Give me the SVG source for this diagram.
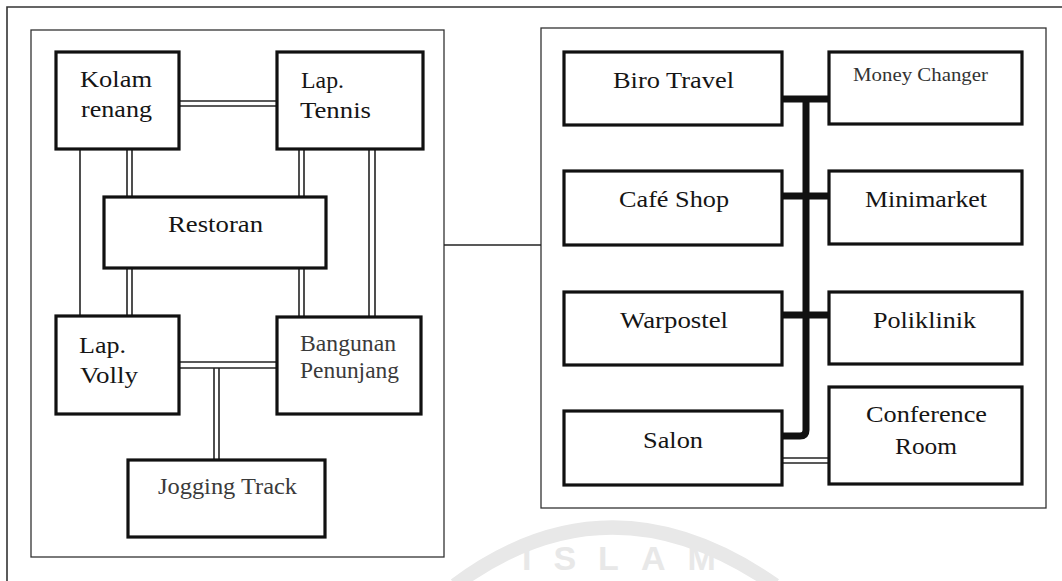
<svg xmlns="http://www.w3.org/2000/svg" width="1062" height="581" viewBox="0 0 1062 581">
<style>
.frame{fill:none;stroke:#333;stroke-width:1.3}
.box{fill:#fff;stroke:#111;stroke-width:3.2}
.ln{fill:none;stroke:#222;stroke-width:1.6}
.bus{fill:none;stroke:#111;stroke-width:7}
text{font-family:'Liberation Serif','Times New Roman',Times,serif}
.t{font-size:24px;fill:#151515}
.s{font-size:23px;fill:#3a3a3a}
.m{font-size:18px;fill:#333}
.wm{fill:none;stroke:#e8e8e8;stroke-width:14}
.wmt{font-family:'Liberation Sans',Arial,sans-serif;font-weight:bold;font-size:34px;fill:#e8e8e8}
</style>
<rect width="1062" height="581" fill="#fff"/>
<g id="watermark">
<path class="wm" d="M455,585 Q610,470 775,585"/>
<text class="wmt" x="522" y="570" letter-spacing="22">ISLAM</text>
</g>
<g id="outer-frame">
<path d="M7,581 V7 H1062" fill="none" stroke="#333" stroke-width="1.6"/>
</g>
<g id="panel-left"><rect class="frame" x="31" y="30" width="413" height="527"/></g>
<g id="panel-right"><rect class="frame" x="541" y="28" width="505" height="480"/></g>
<g id="connectors">
<line class="ln" x1="444" y1="245" x2="541" y2="245"/>
<line class="ln" x1="179" y1="101" x2="277" y2="101"/>
<line class="ln" x1="179" y1="106" x2="277" y2="106"/>
<line class="ln" x1="80" y1="149" x2="80" y2="316"/>
<line class="ln" x1="127" y1="149" x2="127" y2="197"/>
<line class="ln" x1="132" y1="149" x2="132" y2="197"/>
<line class="ln" x1="127" y1="268" x2="127" y2="316"/>
<line class="ln" x1="132" y1="268" x2="132" y2="316"/>
<line class="ln" x1="299" y1="149" x2="299" y2="197"/>
<line class="ln" x1="304" y1="149" x2="304" y2="197"/>
<line class="ln" x1="299" y1="268" x2="299" y2="317"/>
<line class="ln" x1="304" y1="268" x2="304" y2="317"/>
<line class="ln" x1="369" y1="149" x2="369" y2="317"/>
<line class="ln" x1="375" y1="149" x2="375" y2="317"/>
<line class="ln" x1="155" y1="362" x2="277" y2="362"/>
<line class="ln" x1="155" y1="368" x2="277" y2="368"/>
<line class="ln" x1="214" y1="368" x2="214" y2="460"/>
<line class="ln" x1="219" y1="368" x2="219" y2="460"/>
<path class="bus" d="M782,436 H800 Q806,436 806,430 V99"/>
<line class="bus" x1="782" y1="99" x2="829" y2="99"/>
<line class="bus" x1="782" y1="196" x2="829" y2="196"/>
<line class="bus" x1="782" y1="315" x2="829" y2="315"/>
<line class="ln" x1="782" y1="458" x2="829" y2="458"/>
<line class="ln" x1="782" y1="463" x2="829" y2="463"/>
</g>
<g id="kolam-renang"><rect class="box" x="56" y="52" width="123" height="97"/>
<text class="t" x="80" y="87" textLength="72" lengthAdjust="spacingAndGlyphs">Kolam</text>
<text class="t" x="81" y="117" textLength="71" lengthAdjust="spacingAndGlyphs">renang</text></g>
<g id="lap-tennis"><rect class="box" x="277" y="52" width="146" height="97"/>
<text class="t" x="301" y="88" textLength="43" lengthAdjust="spacingAndGlyphs">Lap.</text>
<text class="t" x="300" y="118" textLength="71" lengthAdjust="spacingAndGlyphs">Tennis</text></g>
<g id="restoran"><rect class="box" x="104" y="197" width="222" height="71"/>
<text class="t" x="168" y="232" textLength="95" lengthAdjust="spacingAndGlyphs">Restoran</text></g>
<g id="lap-volly"><rect class="box" x="56" y="316" width="123" height="98"/>
<text class="t" x="79" y="353" textLength="47" lengthAdjust="spacingAndGlyphs">Lap.</text>
<text class="t" x="80" y="383" textLength="58" lengthAdjust="spacingAndGlyphs">Volly</text></g>
<g id="bangunan-penunjang"><rect class="box" x="277" y="317" width="144" height="97"/>
<text class="s" x="300" y="351" textLength="96" lengthAdjust="spacingAndGlyphs">Bangunan</text>
<text class="s" x="300" y="378" textLength="99" lengthAdjust="spacingAndGlyphs">Penunjang</text></g>
<g id="jogging-track"><rect class="box" x="128" y="460" width="197" height="77"/>
<text class="s" x="158" y="494" textLength="139" lengthAdjust="spacingAndGlyphs">Jogging Track</text></g>
<g id="biro-travel"><rect class="box" x="564" y="52" width="218" height="73"/>
<text class="t" x="613" y="88" textLength="121" lengthAdjust="spacingAndGlyphs">Biro Travel</text></g>
<g id="money-changer"><rect class="box" x="829" y="52" width="193" height="72"/>
<text class="m" x="853" y="81" textLength="135" lengthAdjust="spacingAndGlyphs">Money Changer</text></g>
<g id="cafe-shop"><rect class="box" x="564" y="171" width="218" height="74"/>
<text class="t" x="619" y="207" textLength="110" lengthAdjust="spacingAndGlyphs">Café Shop</text></g>
<g id="minimarket"><rect class="box" x="829" y="171" width="193" height="73"/>
<text class="t" x="865" y="207" textLength="122" lengthAdjust="spacingAndGlyphs">Minimarket</text></g>
<g id="warpostel"><rect class="box" x="564" y="292" width="218" height="73"/>
<text class="t" x="620" y="328" textLength="108" lengthAdjust="spacingAndGlyphs">Warpostel</text></g>
<g id="poliklinik"><rect class="box" x="829" y="292" width="193" height="72"/>
<text class="t" x="873" y="328" textLength="103" lengthAdjust="spacingAndGlyphs">Poliklinik</text></g>
<g id="salon"><rect class="box" x="564" y="411" width="218" height="74"/>
<text class="t" x="643" y="448" textLength="60" lengthAdjust="spacingAndGlyphs">Salon</text></g>
<g id="conference-room"><rect class="box" x="829" y="387" width="193" height="97"/>
<text class="t" x="866" y="422" textLength="121" lengthAdjust="spacingAndGlyphs">Conference</text>
<text class="t" x="895" y="454" textLength="62" lengthAdjust="spacingAndGlyphs">Room</text></g>
</svg>
